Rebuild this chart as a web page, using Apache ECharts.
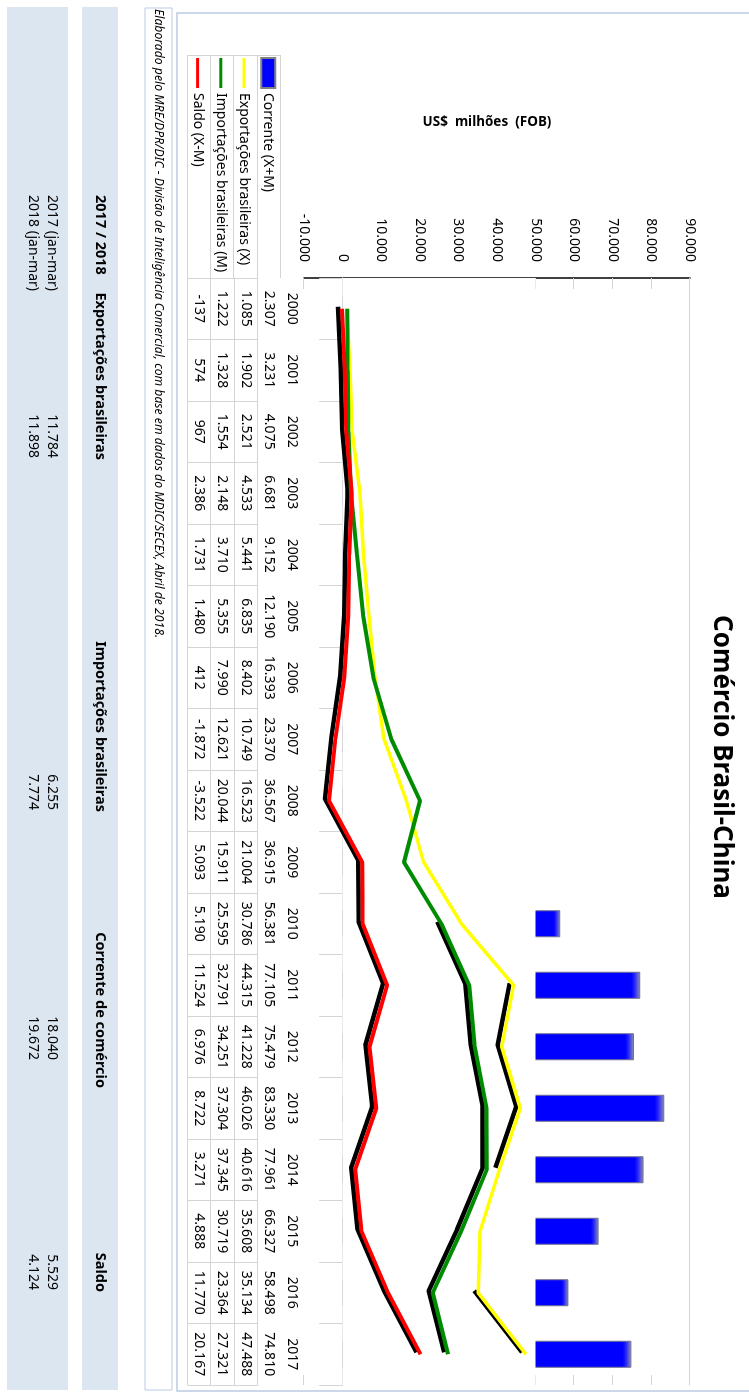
<!DOCTYPE html>
<html>
<head>
<meta charset="utf-8">
<script src="https://cdn.jsdelivr.net/npm/echarts@6/dist/echarts.min.js"></script>
<style>
html,body{margin:0;padding:0;background:#fff;overflow:hidden;width:749px;height:1394px;}
#chart{position:absolute;left:0;top:0;width:1394px;height:749px;transform-origin:0 0;transform:translate(749px,0) rotate(90deg);background:#fff;}
</style>
</head>
<body>
<div id="chart"></div>
<script>
// ---- data (US$ millions FOB) ----
const years = ['2000','2001','2002','2003','2004','2005','2006','2007','2008','2009','2010','2011','2012','2013','2014','2015','2016','2017'];
const corrente    = [2307, 3231, 4075, 6681, 9152, 12190, 16393, 23370, 36567, 36915, 56381, 77105, 75479, 83330, 77961, 66327, 58498, 74810];
const exportacoes = [1085, 1902, 2521, 4533, 5441, 6835, 8402, 10749, 16523, 21004, 30786, 44315, 41228, 46026, 40616, 35608, 35134, 47488];
const importacoes = [1222, 1328, 1554, 2148, 3710, 5355, 7990, 12621, 20044, 15911, 25595, 32791, 34251, 37304, 37345, 30719, 23364, 27321];
const saldo       = [-137, 574, 967, 2386, 1731, 1480, 412, -1872, -3522, 5093, 5190, 11524, 6976, 8722, 3271, 4888, 11770, 20167];
const seriesNames = ['Corrente (X+M)', 'Exportações brasileiras (X)', 'Importações brasileiras (M)', 'Saldo (X-M)'];
const valueMin = -10000, valueMax = 90000, valueStep = 10000;

const summaryHeaders = ['2017 / 2018', 'Exportações brasileiras', 'Importações brasileiras', 'Corrente de comércio', 'Saldo'];
const summaryPeriods = ['2017 (jan-mar)', '2018 (jan-mar)'];
const summaryExport   = [11784, 11898];
const summaryImport   = [6255, 7774];
const summaryCorrente = [18040, 19672];
const summarySaldo    = [5529, 4124];

const titleText = 'Comércio Brasil-China';
const axisName = 'US$  milhões  (FOB)';
const footnote = 'Elaborado pelo MRE/DPR/DIC - Divisão de Inteligência Comercial, com base em dados do MDIC/SECEX, Abril de 2018.';

// years (indices) where the drop shadow of each line is visible in the source picture
const shadowExportIdx = [11, 12, 13, 14, 16, 17];
const shadowImportIdx = [10, 11, 12, 13, 14, 15, 16, 17];

// ---- layout / style constants ----
const FONT = '"Noto Sans", "DejaVu Sans", sans-serif';
const GRID_L = 278, GRID_R = 9, GRID_T = 59, GRID_B = 304;
const TABLE_TOP = 749 - GRID_B;
const ROW_H = 23.2;
const SH_DX = -2, SH_DY = 4;
const GRAYLINE = '#d4d4d4';
const BOXLINE = '#b9cbe3';
const STRIP = '#dce6f1';
const HIDE_BELOW = 50000;

function fmt(v) {
  const s = Math.abs(Math.round(v)).toString().replace(/\B(?=(\d{3})+(?!\d))/g, '.');
  return (v < 0 ? '-' : '') + s;
}
function pick(arr, idx) { return arr.map(function (v, i) { return idx.indexOf(i) >= 0 ? v : null; }); }

const chart = echarts.init(document.getElementById('chart'), null, {renderer: 'canvas', width: 1394, height: 749});

function tableAxis(offset, arr) {
  return {
    type: 'category', data: years, position: 'bottom', offset: offset, gridIndex: 0,
    axisLine: {show: true, lineStyle: {color: GRAYLINE, width: 1}},
    axisTick: {show: true, length: ROW_H, interval: 0, lineStyle: {color: GRAYLINE, width: 1}},
    axisLabel: {show: true, interval: 0, margin: 5, fontSize: 14, lineHeight: 14, color: '#000', fontFamily: FONT,
      formatter: arr ? function (v, i) { return fmt(arr[i]); } : null},
    splitLine: {show: false}
  };
}

const xAxes = [
  tableAxis(0, null),
  tableAxis(ROW_H * 1, corrente),
  tableAxis(ROW_H * 2, exportacoes),
  tableAxis(ROW_H * 3, importacoes),
  tableAxis(ROW_H * 4, saldo),
  {type: 'category', data: years, position: 'bottom', offset: ROW_H * 5, gridIndex: 0,
   axisLine: {show: true, lineStyle: {color: GRAYLINE}}, axisTick: {show: false}, axisLabel: {show: false}},
  {type: 'category', data: years, position: 'top', gridIndex: 0,
   axisLine: {show: true, lineStyle: {color: GRAYLINE}}, axisTick: {show: false}, axisLabel: {show: false}},
  {type: 'category', data: years, show: false, gridIndex: 0},
  {type: 'category', data: years, show: false, gridIndex: 1}
];

const graphics = [];
// chart frame
graphics.push({type: 'rect', shape: {x: 13, y: -4, width: 1378, height: 576}, style: {fill: null, stroke: BOXLINE, lineWidth: 1.5}, silent: true, z: -10});
// legend/table header box
const hdrL = 55;
for (let k = 1; k <= 5; k++) {
  const y = Math.round(TABLE_TOP + ROW_H * k) + 0.5;
  graphics.push({type: 'line', shape: {x1: hdrL, y1: y, x2: GRID_L, y2: y}, style: {stroke: GRAYLINE, lineWidth: 1}, silent: true});
}
graphics.push({type: 'line', shape: {x1: hdrL + 0.5, y1: TABLE_TOP + ROW_H, x2: hdrL + 0.5, y2: TABLE_TOP + ROW_H * 5}, style: {stroke: GRAYLINE, lineWidth: 1}, silent: true});
// title
graphics.push({type: 'text', x: 757, y: 28, style: {text: titleText, font: 'bold 26px ' + FONT, fill: '#000', align: 'center', verticalAlign: 'middle'}, silent: true});
// value axis name (reads bottom-to-top)
graphics.push({type: 'text', x: 122, y: 262, rotation: Math.PI / 2, style: {text: axisName, font: 'bold 13.5px ' + FONT, fill: '#000', align: 'center', verticalAlign: 'middle'}, silent: true});
// footnote box + text
graphics.push({type: 'rect', shape: {x: 8, y: 577, width: 1382, height: 27}, style: {fill: null, stroke: BOXLINE, lineWidth: 1}, silent: true});
graphics.push({type: 'text', x: 9, y: 591, style: {text: footnote, font: 'italic 12.2px ' + FONT, fill: '#000', align: 'left', verticalAlign: 'middle'}, silent: true});
// summary table
graphics.push({type: 'rect', shape: {x: 7, y: 631, width: 1383, height: 36}, style: {fill: STRIP}, silent: true, z: -5});
graphics.push({type: 'rect', shape: {x: 7, y: 681, width: 1383, height: 61}, style: {fill: STRIP}, silent: true, z: -5});
const colRight = [null, 460, 812, 1088, 1292];
const colLeft0 = 195;
summaryHeaders.forEach(function (h, c) {
  graphics.push({type: 'text', x: c === 0 ? colLeft0 : colRight[c], y: 649,
    style: {text: h, font: 'bold 14.5px ' + FONT, fill: '#000', align: c === 0 ? 'left' : 'right', verticalAlign: 'middle'}, silent: true});
});
const sumCols = [summaryExport, summaryImport, summaryCorrente, summarySaldo];
const valRight = [458, 810, 1060, 1290];
summaryPeriods.forEach(function (p, r) {
  const y = 697 + r * 19;
  graphics.push({type: 'text', x: colLeft0, y: y, style: {text: p, font: '14px ' + FONT, fill: '#000', align: 'left', verticalAlign: 'middle'}, silent: true});
  sumCols.forEach(function (arr, c) {
    graphics.push({type: 'text', x: valRight[c], y: y, style: {text: fmt(arr[r]), font: '14px ' + FONT, fill: '#000', align: 'right', verticalAlign: 'middle'}, silent: true});
  });
});

const lineIcon = 'path://M0,0 L30,0 L30,3 L0,3 Z';
const shadowSeries = function (data) {
  return {type: 'line', data: data, xAxisIndex: 8, yAxisIndex: 2, symbol: 'none', z: 4, silent: true,
    connectNulls: false, lineStyle: {color: '#000', width: 4.5}, itemStyle: {color: '#000'}};
};

const option = {
  backgroundColor: '#fff',
  animation: false,
  textStyle: {fontFamily: FONT},
  grid: [
    {left: GRID_L, right: GRID_R, top: GRID_T, bottom: GRID_B, containLabel: false, outerBoundsMode: 'none'},
    {left: GRID_L + SH_DX, right: GRID_R - SH_DX, top: GRID_T + SH_DY, bottom: GRID_B - SH_DY, containLabel: false, outerBoundsMode: 'none'}
  ],
  legend: {
    orient: 'vertical', left: hdrL + 2, top: TABLE_TOP + ROW_H + (ROW_H - 14) / 2,
    itemWidth: 30, itemHeight: 14, itemGap: ROW_H - 14, padding: 0,
    textStyle: {fontSize: 14, lineHeight: 14, color: '#000', fontFamily: FONT},
    data: [
      {name: seriesNames[0], icon: 'rect', itemStyle: {color: '#0000ff', borderColor: '#808080', borderWidth: 2}},
      {name: seriesNames[1], icon: lineIcon, itemStyle: {color: '#ffff00'}},
      {name: seriesNames[2], icon: lineIcon, itemStyle: {color: '#008c00'}},
      {name: seriesNames[3], icon: lineIcon, itemStyle: {color: '#ff0000'}}
    ],
    selectedMode: false
  },
  xAxis: xAxes,
  yAxis: [
    {type: 'value', gridIndex: 0, min: valueMin, max: valueMax, interval: valueStep, position: 'left',
     axisLine: {show: true, lineStyle: {color: '#000', width: 1.5}},
     axisTick: {show: true, inside: true, length: 11, lineStyle: {color: GRAYLINE}},
     axisLabel: {formatter: fmt, fontSize: 14, color: '#000', margin: 16, fontFamily: FONT},
     splitLine: {show: false}},
    {type: 'value', gridIndex: 0, min: valueMin, max: valueMax, interval: valueStep, position: 'right',
     axisLine: {show: false}, axisTick: {show: true, inside: true, length: 10, lineStyle: {color: GRAYLINE}},
     axisLabel: {show: false}, splitLine: {show: false}},
    {type: 'value', gridIndex: 1, min: valueMin, max: valueMax, interval: valueStep, show: false, splitLine: {show: false}}
  ],
  series: [
    {name: seriesNames[0], type: 'bar', data: corrente, xAxisIndex: 0, yAxisIndex: 0, barWidth: 27, z: 2,
     itemStyle: {color: {type: 'linear', x: 0, y: 0, x2: 0, y2: 1, colorStops: [
       {offset: 0, color: '#9090b0'}, {offset: 0.02, color: '#2020ff'}, {offset: 0.03, color: '#0000ff'}, {offset: 1, color: '#0000ff'}]},
       borderColor: '#6f6f8f', borderWidth: 1}},
    {name: 'cover', type: 'bar', data: years.map(function () { return HIDE_BELOW; }), xAxisIndex: 7, yAxisIndex: 0,
     barWidth: '100%', z: 3, silent: true, itemStyle: {color: '#fff'}},
    shadowSeries(pick(exportacoes, shadowExportIdx)),
    shadowSeries(pick(importacoes, shadowImportIdx)),
    shadowSeries(saldo),
    {name: seriesNames[1], type: 'line', data: exportacoes, xAxisIndex: 0, yAxisIndex: 0, symbol: 'none', z: 5,
     lineStyle: {color: '#ffff00', width: 3.5}, itemStyle: {color: '#ffff00'}},
    {name: seriesNames[2], type: 'line', data: importacoes, xAxisIndex: 0, yAxisIndex: 0, symbol: 'none', z: 6,
     lineStyle: {color: '#008c00', width: 4}, itemStyle: {color: '#008c00'}},
    {name: seriesNames[3], type: 'line', data: saldo, xAxisIndex: 0, yAxisIndex: 0, symbol: 'none', z: 7,
     lineStyle: {color: '#ff0000', width: 4}, itemStyle: {color: '#ff0000'}}
  ],
  graphic: graphics
};
chart.setOption(option);
</script>
</body>
</html>
